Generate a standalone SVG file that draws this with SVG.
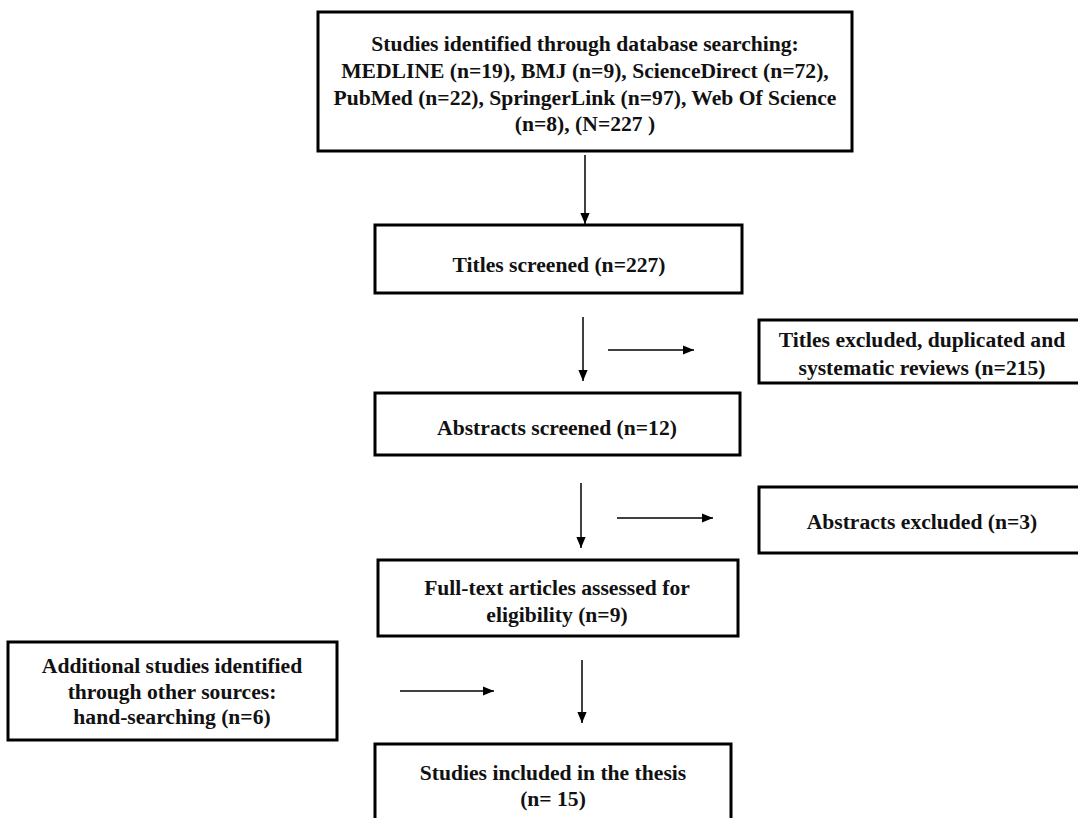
<svg xmlns="http://www.w3.org/2000/svg" width="1078" height="818" viewBox="0 0 1078 818">
<style>
.box{fill:#fff;stroke:#000;stroke-width:3}
.t{font-family:"Liberation Serif","Times New Roman",serif;font-weight:bold;font-size:21.6px;fill:#111;text-anchor:middle}
.c{stroke:#000;stroke-width:1.5;fill:none;marker-end:url(#ah)}
</style>
<defs>
<marker id="ah" viewBox="0 0 10 10" refX="10" refY="5" markerWidth="11" markerHeight="11" markerUnits="userSpaceOnUse" orient="auto">
<path d="M0,0.8 L10,5 L0,9.2 Z" fill="#000"/>
</marker>
</defs>
<rect width="1078" height="818" fill="#fff"/>
<g id="n-identified">
<rect class="box" x="318" y="12" width="534" height="139"/>
<text class="t" x="585" y="51">Studies identified through database searching:</text>
<text class="t" x="585" y="78">MEDLINE (n=19), BMJ (n=9), ScienceDirect (n=72),</text>
<text class="t" x="585" y="104.5">PubMed (n=22), SpringerLink (n=97), Web Of Science</text>
<text class="t" x="585" y="131">(n=8), (N=227 )</text>
</g>
<g id="n-titles">
<rect class="box" x="375" y="225" width="367" height="68"/>
<text class="t" x="559" y="272">Titles screened (n=227)</text>
</g>
<g id="n-titles-excluded">
<rect class="box" x="759" y="320" width="330" height="63"/>
<text class="t" x="922" y="347">Titles excluded, duplicated and</text>
<text class="t" x="922" y="375">systematic reviews (n=215)</text>
</g>
<g id="n-abstracts">
<rect class="box" x="375" y="393" width="365" height="62"/>
<text class="t" x="557" y="435">Abstracts screened (n=12)</text>
</g>
<g id="n-abstracts-excluded">
<rect class="box" x="759" y="487" width="330" height="66"/>
<text class="t" x="922" y="529">Abstracts excluded (n=3)</text>
</g>
<g id="n-fulltext">
<rect class="box" x="378" y="560" width="360" height="76"/>
<text class="t" x="557" y="595">Full-text articles assessed for</text>
<text class="t" x="557" y="622">eligibility (n=9)</text>
</g>
<g id="n-additional">
<rect class="box" x="8" y="642" width="329" height="98"/>
<text class="t" x="172" y="673">Additional studies identified</text>
<text class="t" x="172" y="698.5">through other sources:</text>
<text class="t" x="172" y="724">hand-searching (n=6)</text>
</g>
<g id="n-included">
<rect class="box" x="375" y="744" width="356" height="90"/>
<text class="t" x="553" y="780">Studies included in the thesis</text>
<text class="t" x="553" y="806">(n= 15)</text>
</g>
<g id="connectors">
<line class="c" x1="585" y1="155" x2="585" y2="224"/>
<line class="c" x1="583" y1="317" x2="583" y2="381"/>
<line class="c" x1="608" y1="350" x2="694" y2="350"/>
<line class="c" x1="581" y1="483" x2="581" y2="548"/>
<line class="c" x1="617" y1="518" x2="713" y2="518"/>
<line class="c" x1="582" y1="660" x2="582" y2="723"/>
<line class="c" x1="400" y1="691" x2="494" y2="691"/>
</g>
</svg>
